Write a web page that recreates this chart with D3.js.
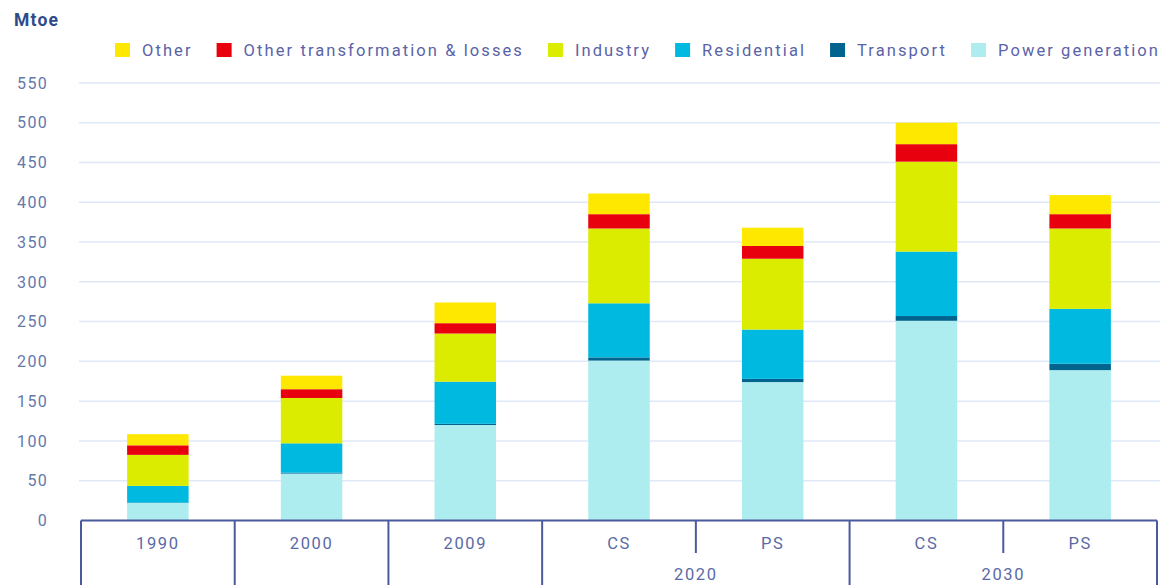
<!DOCTYPE html>
<html><head><meta charset="utf-8">
<script src="https://cdn.jsdelivr.net/npm/d3@7"></script>
<style>
html,body{margin:0;padding:0;background:#fff;}
svg{display:block;font-family:Roboto, "DejaVu Sans", sans-serif;}
</style></head>
<body>
<svg id="chart" width="1162" height="585"></svg>
<script>
// ---- data ----
const categories = ["1990","2000","2009","CS","PS","CS","PS"];
const groupLabels = [null,null,null,"2020","2020","2030","2030"];
const seriesNames = ["Power generation","Transport","Residential","Industry","Other transformation & losses","Other"];
const powerGeneration = [22, 59, 120, 201, 174, 251, 189];
const transport = [0.5, 1, 1.5, 4, 4, 6, 8];
const residential = [21, 37, 53, 68, 62, 81, 69];
const industry = [39, 57, 60.5, 94, 89, 113, 101];
const otherTransformation = [12, 11, 13, 18, 16, 22, 18];
const other = [14, 17, 26, 26, 23, 27, 24];
const yTicks = [0,50,100,150,200,250,300,350,400,450,500,550];
const legendOrder = ["Other","Other transformation & losses","Industry","Residential","Transport","Power generation"];
const colors = ["#aeedef","#00648f","#00b9e0","#dbec00","#e8000f","#ffe800"];

const values = [powerGeneration, transport, residential, industry, otherTransformation, other];
const ids = categories.map((c,i)=>i);
const rows = ids.map(i=>{const r={id:i}; seriesNames.forEach((s,k)=>r[s]=values[k][i]); return r;});

const svg = d3.select("#chart");
const x = d3.scaleBand().domain(ids).range([81,1157]).padding(0);
const y = d3.scaleLinear().domain([0,550]).range([520.5,82.9]);
const color = d3.scaleOrdinal().domain(seriesNames).range(colors);

// gridlines
svg.append("g").selectAll("line").data(yTicks.filter(d=>d>0)).join("line")
  .attr("x1",79).attr("x2",1160)
  .attr("y1",d=>y(d)).attr("y2",d=>y(d))
  .attr("stroke","#dfe8f7").attr("stroke-width",1.5);

// y labels
svg.append("g").selectAll("text").data(yTicks).join("text")
  .attr("x",48).attr("y",d=>y(d)).attr("dy","0.36em")
  .attr("text-anchor","end").attr("font-size",16).attr("letter-spacing",1.3)
  .attr("fill","#6478aa").text(d=>d);

// stacked bars
const stack = d3.stack().keys(seriesNames)(rows);
const bw = x.bandwidth()*0.4;
svg.append("g").selectAll("g").data(stack).join("g")
  .attr("fill",d=>color(d.key))
  .selectAll("rect").data(d=>d).join("rect")
  .attr("x",d=>x(d.data.id)+(x.bandwidth()-bw)/2)
  .attr("width",bw)
  .attr("y",d=>y(d[1]))
  .attr("height",d=>y(d[0])-y(d[1]));

// x axis frame
const axisColor = "#4b5a9e";
const ax = svg.append("g").attr("stroke",axisColor).attr("stroke-width",2);
ax.append("line").attr("x1",x(0)).attr("x2",x(6)+x.bandwidth()).attr("y1",520.5).attr("y2",520.5);
ids.concat([7]).forEach(i=>{
  const xx = i<7 ? x(i) : x(6)+x.bandwidth();
  const g = i<7 ? groupLabels[i] : null;
  const prev = i>0 ? groupLabels[i-1] : null;
  const long = !(g && prev && g===prev);
  ax.append("line").attr("x1",xx).attr("x2",xx).attr("y1",520.5).attr("y2",long?585:553);
});

// category labels
svg.append("g").selectAll("text").data(ids).join("text")
  .attr("x",d=>x(d)+x.bandwidth()/2).attr("y",543).attr("dy","0.36em")
  .attr("text-anchor","middle").attr("font-size",16.5).attr("letter-spacing",1.6)
  .attr("fill","#5b6aa6").text(d=>categories[d]);

// group labels
const groups = d3.groups(ids.filter(i=>groupLabels[i]), i=>groupLabels[i]);
svg.append("g").selectAll("text").data(groups).join("text")
  .attr("x",d=>(x(d[1][0])+x(d[1][d[1].length-1])+x.bandwidth())/2)
  .attr("y",574).attr("dy","0.36em")
  .attr("text-anchor","middle").attr("font-size",16.5).attr("letter-spacing",1.6)
  .attr("fill","#5b6aa6").text(d=>d[0]);

// Mtoe title
svg.append("text").attr("x",14).attr("y",20).attr("dy","0.36em")
  .attr("font-size",17.5).attr("font-weight","bold").attr("letter-spacing",1.2)
  .attr("fill","#2f4a8c").text("Mtoe");

// legend
const lg = svg.append("g");
const items = legendOrder.map(name=>{
  const t = lg.append("text").attr("y",50).attr("dy","0.36em")
    .attr("font-size",16.5).attr("fill","#5a63a8").text(name);
  return {name, t, w: t.node().getComputedTextLength()};
});
const totalChars = d3.sum(legendOrder, s=>s.length);
const targetText = 1160 - 115 - legendOrder.length*27 - (legendOrder.length-1)*24;
const ls = (targetText - d3.sum(items, d=>d.w)) / totalChars;
let lx = 115;
items.forEach(it=>{
  lg.append("rect").attr("x",lx).attr("y",43).attr("width",15).attr("height",14).attr("fill",color(it.name));
  it.t.attr("x",lx+27).attr("letter-spacing",ls);
  lx = lx + 27 + it.w + ls*it.name.length + 24;
});
</script>
</body></html>
